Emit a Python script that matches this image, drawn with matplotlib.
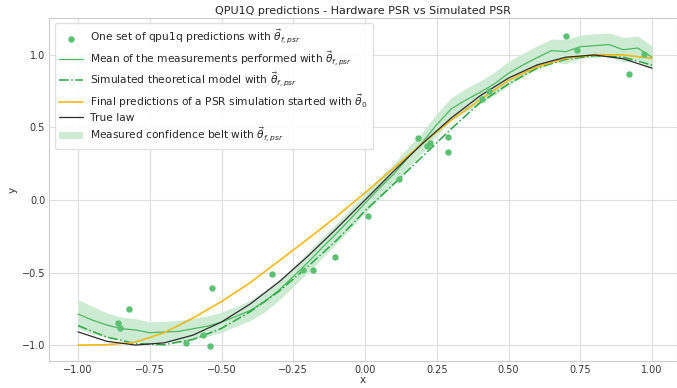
import matplotlib
matplotlib.use('Agg')
import matplotlib.pyplot as plt
import numpy as np
import seaborn as sns

# Hardware measurements (one set of qpu1q predictions)
scatter_x = [-0.860, -0.854, -0.823, -0.624, -0.564, -0.541, -0.534, -0.324, -0.215,
             -0.182, -0.106, 0.012, 0.120, 0.184, 0.215, 0.225, 0.289, 0.289, 0.406,
             0.433, 0.700, 0.738, 0.921, 0.971]
scatter_y = [-0.846, -0.881, -0.754, -0.986, -0.930, -1.005, -0.605, -0.513, -0.483,
             -0.483, -0.395, -0.110, 0.147, 0.425, 0.370, 0.390, 0.434, 0.333, 0.694,
             0.754, 1.129, 1.037, 0.869, 1.005]

# Curves sampled every 0.1 on [-1, 1]
curve_x = np.linspace(-1.0, 1.0, 21)
true_law = [-0.909, -0.974, -1.000, -0.985, -0.932, -0.841, -0.717, -0.565, -0.389, -0.199,
            0.000, 0.199, 0.389, 0.565, 0.717, 0.841, 0.932, 0.985, 1.000, 0.974, 0.909]
simulated = [-0.866, -0.945, -0.990, -0.998, -0.962, -0.885, -0.770, -0.630, -0.460, -0.280,
             -0.075, 0.110, 0.300, 0.490, 0.670, 0.800, 0.910, 0.970, 0.995, 0.985, 0.930]
psr_theta0 = [-1.000, -0.998, -0.980, -0.915, -0.815, -0.700, -0.570, -0.420, -0.270, -0.115,
              0.050, 0.220, 0.390, 0.550, 0.690, 0.825, 0.920, 0.977, 1.003, 1.000, 0.977]

# Mean of the hardware measurements, sampled every 0.05
mean_x = np.linspace(-1.0, 1.0, 41)
mean_y = [-0.786, -0.828, -0.862, -0.887, -0.896, -0.915, -0.910, -0.906, -0.888, -0.870,
          -0.842, -0.803, -0.762, -0.700, -0.622, -0.528, -0.432, -0.330, -0.232, -0.128,
          -0.022, 0.082, 0.178, 0.292, 0.398, 0.520, 0.628, 0.688, 0.742, 0.800,
          0.874, 0.931, 0.982, 1.030, 1.023, 1.057, 1.064, 1.072, 1.036, 1.048, 0.985]
belt_half = [0.100, 0.095, 0.085, 0.080, 0.078, 0.075, 0.074, 0.076, 0.072, 0.070,
             0.070, 0.068, 0.070, 0.072, 0.070, 0.068, 0.070, 0.072, 0.070, 0.068,
             0.070, 0.072, 0.070, 0.070, 0.072, 0.075, 0.078, 0.080, 0.078, 0.080,
             0.082, 0.080, 0.082, 0.080, 0.082, 0.080, 0.082, 0.080, 0.085, 0.082, 0.080]

sns.set_style('whitegrid')
plt.rcParams['font.family'] = ['DejaVu Sans']

fig = plt.figure(figsize=(6.77, 3.88), dpi=100)
ax = fig.add_axes([49.3 / 677, 1 - 361 / 388, 1 - 49.3 / 677, (361 - 18) / 388])

mean_arr = np.array(mean_y)
half_arr = np.array(belt_half)

ax.scatter(scatter_x, scatter_y, s=13, color='#5cc073', zorder=4,
           label=r'One set of qpu1q predictions with $\vec{\theta}_{f, psr}$')
ax.plot(mean_x, mean_y, color='#4cb860', lw=0.9,
        label=r'Mean of the measurements performed with $\vec{\theta}_{f, psr}$')
ax.plot(curve_x, simulated, color='#2ca444', lw=1.1, ls='-.',
        label=r'Simulated theoretical model with $\vec{\theta}_{f, psr}$')
ax.plot(curve_x, psr_theta0, color='#f5b916', lw=1.2,
        label=r'Final predictions of a PSR simulation started with $\vec{\theta}_0$')
ax.plot(curve_x, true_law, color='#2b2b2b', lw=0.9, label='True law')
ax.fill_between(mean_x, mean_arr - half_arr, mean_arr + half_arr, color='#cdebd3',
                lw=0, zorder=1,
                label=r'Measured confidence belt with $\vec{\theta}_{f, psr}$')

ax.set_xlim(-1.1, 1.087)
ax.set_ylim(-1.11, 1.255)
ax.set_xticks([-1.0, -0.75, -0.5, -0.25, 0.0, 0.25, 0.5, 0.75, 1.0])
ax.set_yticks([-1.0, -0.5, 0.0, 0.5, 1.0])
ax.tick_params(labelsize=7, colors='#333333', length=0, pad=3)
ax.set_xlabel('x', fontsize=7.5, color='#333333', labelpad=0)
ax.set_ylabel('y', fontsize=7.5, color='#333333', labelpad=3)
ax.set_title('QPU1Q predictions - Hardware PSR vs Simulated PSR', fontsize=8,
             color='#222222', pad=3)
ax.grid(True, color='#dddddd', lw=0.8)
for spine in ax.spines.values():
    spine.set_color('#cccccc')

ax.legend(loc='upper left', fontsize=7.7, frameon=True, framealpha=0.9,
          edgecolor='#dddddd', labelspacing=0.3, borderpad=0.45, handlelength=2.2,
          handletextpad=0.7)

fig.savefig('out.png', dpi=100)
